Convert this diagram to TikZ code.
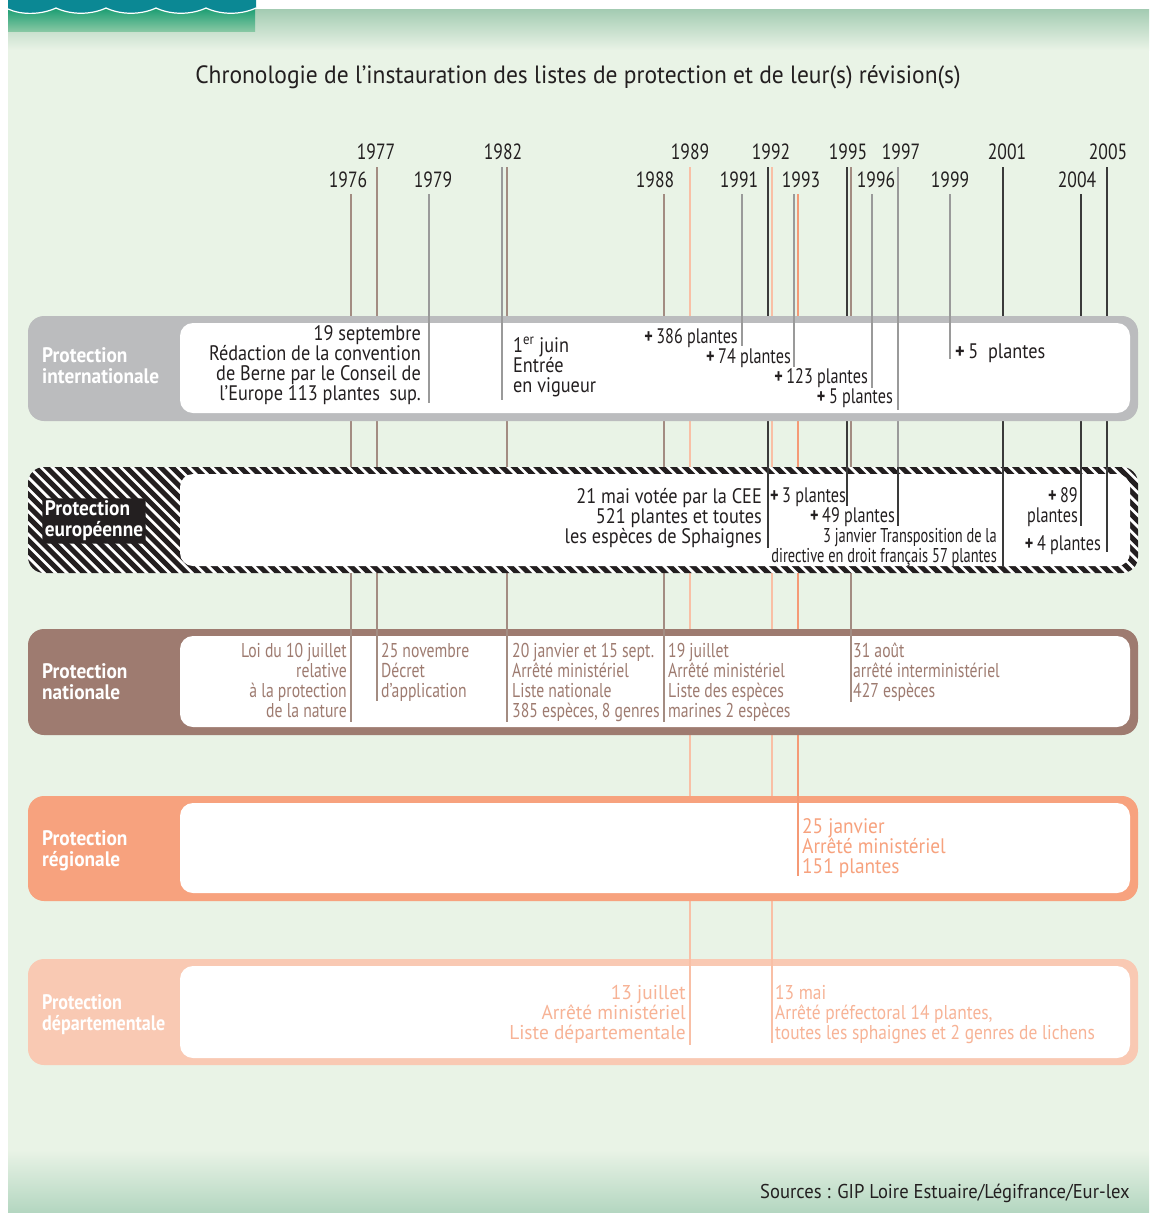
\documentclass[tikz,border=0pt]{standalone}
\usepackage{fontspec}
\setmainfont{PT Sans}
\newfontfamily\fyr[FakeStretch=0.80]{PT Sans}
\newfontfamily\fblk[FakeStretch=0.87]{PT Sans}
\newfontfamily\fplus[FakeStretch=0.77]{PT Sans}
\newfontfamily\fxc[FakeStretch=0.72]{PT Sans}
\newfontfamily\fcond[FakeStretch=0.785]{PT Sans}
\newfontfamily\freg[FakeStretch=0.92]{PT Sans}
\newfontfamily\fdepa[FakeStretch=0.97]{PT Sans}
\newfontfamily\fdepb[FakeStretch=0.87]{PT Sans}
\newfontfamily\flab[FakeStretch=0.92]{PT Sans}
\newfontfamily\fldep[FakeStretch=0.86]{PT Sans}
\newfontfamily\fttl[FakeStretch=0.94]{PT Sans}
\newfontfamily\fsrc[FakeStretch=0.93]{PT Sans}
\definecolor{bg}{HTML}{E9F3E6}
\definecolor{bgdark}{HTML}{A3CBB2}
\definecolor{bgbot}{HTML}{B3D6C0}
\definecolor{bannerteal}{HTML}{0B8894}
\definecolor{wgreen}{HTML}{1A9D72}
\definecolor{wgreenl}{HTML}{86C7A3}
\definecolor{intl}{HTML}{BBBCBE}
\definecolor{natl}{HTML}{9E7B70}
\definecolor{regl}{HTML}{F7A27E}
\definecolor{dept}{HTML}{F9C9B3}
\definecolor{deptt}{HTML}{F7B396}
\definecolor{txt}{HTML}{231F20}
\definecolor{lgray}{HTML}{9A9A9A}
\definecolor{ldark}{HTML}{3A3A3A}
\definecolor{lbrown}{HTML}{A38C82}
\definecolor{lsalm}{HTML}{F9BFA5}
\definecolor{salm}{HTML}{F59A76}
\tikzset{
  yr/.style={font=\fyr\fontsize{22}{22}\selectfont, text=txt, inner sep=0},
  lab/.style={font=\flab\bfseries\fontsize{21}{21}\selectfont, text=white, align=left, anchor=west, inner sep=0},
  blk/.style={font=\fblk\fontsize{21}{20}\selectfont, text=txt, inner sep=0},
  plus/.style={font=\fplus\fontsize{21}{20}\selectfont, text=txt, inner sep=0},
  xc/.style={font=\fxc\fontsize{20}{20}\selectfont, text=txt, inner sep=0},
  nat/.style={font=\fcond\fontsize{20}{20}\selectfont, text=natl, inner sep=0},
  reg/.style={font=\freg\fontsize{21}{20}\selectfont, text=regl, inner sep=0},
  depa/.style={font=\fdepa\fontsize{20}{20}\selectfont, text=deptt, inner sep=0},
  depb/.style={font=\fdepb\fontsize{20}{20}\selectfont, text=deptt, inner sep=0},
  gl/.style={draw=lgray, line width=1.1pt},
  dl/.style={draw=ldark, line width=1.1pt},
  bl/.style={draw=lbrown, line width=1.1pt},
  sl/.style={draw=salm, line width=1.1pt},
  ll/.style={draw=lsalm, line width=1.1pt},
}
\newcommand\pl{\textbf{+}\,}
\begin{document}
\begin{tikzpicture}[x=1pt,y=-1pt]
\useasboundingbox (0,0) rectangle (1149,1213);
\fill[white] (0,0) rectangle (1149,1213);
% background
\shade[top color=bgdark, bottom color=bg] (8,9) rectangle (1149,50);
\fill[bg] (8,50) rectangle (1149,1150);
\shade[top color=bg, bottom color=bgbot] (8,1150) rectangle (1149,1213);
% banner
\shade[top color=wgreen, bottom color=wgreenl] (8,8) rectangle (255,31);
\fill[bannerteal] (8,0) -- (256,0) -- (256,8)
  .. controls (241,15) and (221,15) .. (206,8)
  .. controls (191,15) and (171,15) .. (156,8)
  .. controls (141,15) and (121,15) .. (106,8)
  .. controls (91,15) and (71,15) .. (56,8)
  .. controls (41,15) and (21,15) .. (8,9) -- cycle;
\draw[white, line width=1.2pt] (256,8)
  .. controls (241,15) and (221,15) .. (206,8)
  .. controls (191,15) and (171,15) .. (156,8)
  .. controls (141,15) and (121,15) .. (106,8)
  .. controls (91,15) and (71,15) .. (56,8)
  .. controls (41,15) and (21,15) .. (8,9);
% title
\node[font=\fttl\fontsize{25}{25}\selectfont, text=txt, inner sep=0] (title) at (578,77) {Chronologie de l’instauration des listes de protection et de leur(s) révision(s)};
% years
\node[yr] (y1977) at (376,152) {1977};
\node[yr] (y1982) at (503,152) {1982};
\node[yr] (y1989) at (690,152) {1989};
\node[yr] (y1992) at (771,152) {1992};
\node[yr] (y1995) at (848,152) {1995};
\node[yr] (y1997) at (901,152) {1997};
\node[yr] (y2001) at (1007,152) {2001};
\node[yr] (y2005) at (1108,152) {2005};
\node[yr] (y1976) at (348,180) {1976};
\node[yr] (y1979) at (433,180) {1979};
\node[yr] (y1988) at (655,180) {1988};
\node[yr] (y1991) at (739,180) {1991};
\node[yr] (y1993) at (801,180) {1993};
\node[yr] (y1996) at (876,180) {1996};
\node[yr] (y1999) at (950,180) {1999};
\node[yr] (y2004) at (1077,180) {2004};
% year lines (behind the bands)
\foreach \n/\x/\ty/\ey/\s in {
  a/351/194/722/bl, b/377/167/701/bl, c/429/194/403/gl, d/502/167/400/gl,
  e/507/167/722/bl, f/664/194/722/bl, g/690/167/1045/ll, h/742/194/346/gl,
  i/768/167/548/dl, j/772/167/1043/ll, k/794/194/367/gl, l/798/194/876/sl,
  m/847/167/506/dl, n/851/167/702/bl, o/872/194/388/gl, p/898/167/526/gl,
  q/950/194/359/gl, r/1003/167/566/dl, s/1081/194/526/dl, t/1107/167/552/dl}{
  \coordinate (t\n) at (\x,\ty);
  \coordinate (e\n) at (\x,\ey);
  \draw[\s] (t\n) -- (e\n);
}
% international band
\fill[intl, rounded corners=16pt] (28,316) rectangle (1138,421);
\fill[white, rounded corners=13pt] (180,323) rectangle (1130,413);
% european band
\begin{scope}
  \clip[rounded corners=16pt] (28,467) rectangle (1138,573);
  \fill[white] (28,467) rectangle (1138,573);
  \foreach \i in {-12,...,100}
    \draw[txt, line width=5pt] ({28+\i*11.4},460) -- ({28+\i*11.4+120},580);
\end{scope}
\fill[white, rounded corners=13pt] (180,474) rectangle (1130,566);
% national band
\fill[natl, rounded corners=16pt] (28,629) rectangle (1138,735);
\fill[white, rounded corners=13pt] (180,636) rectangle (1130,727);
% regional band
\fill[regl, rounded corners=16pt] (28,796) rectangle (1138,901);
\fill[white, rounded corners=13pt] (180,803) rectangle (1130,893);
% departmental band
\fill[dept, rounded corners=16pt] (28,959) rectangle (1138,1065);
\fill[white, rounded corners=13pt] (180,966) rectangle (1130,1058);
% front segments in the band where each line ends
\foreach \n/\fy/\s in {a/629/bl, b/629/bl, c/316/gl, d/316/gl, e/629/bl, f/629/bl,
  g/959/ll, h/316/gl, i/467/dl, j/959/ll, k/316/gl, l/796/sl, m/467/dl, n/629/bl,
  o/316/gl, q/316/gl, r/467/dl, s/467/dl, t/467/dl}{
  \draw[\s] (t\n |- 0,\fy) -- (e\n);
}
\coordinate (pint) at (898,410);
\draw[gl] (tp |- 0,316) -- (pint);
\draw[dl] (tp |- 0,467) -- (ep);
% band labels
\node[lab] (lint) at (42,366) {Protection\\internationale};
\node[font=\flab\bfseries\fontsize{21}{21}\selectfont, text=white, align=left, fill=txt, inner sep=2.5pt, rounded corners=2pt] (leu) at (94,521) {Protection\\européenne};
\node[lab] (lnat) at (42,682) {Protection\\nationale};
\node[lab] (lreg) at (42,851) {Protection\\régionale};
\node[lab, font=\fldep\bfseries\fontsize{21}{21}\selectfont] (ldep) at (42,1015) {Protection\\départementale};
% international texts
\node[blk, align=right, anchor=north east] (i1979) at (421,325) {19 septembre\\Rédaction de la convention\\de Berne par le Conseil de\\l’Europe 113 plantes\ \ sup.};
\node[blk, align=left, anchor=north west] (i1982) at (513,337) {1\textsuperscript{er} juin\\Entrée\\en vigueur};
\node[plus, anchor=north east] (i1991) at (738,328) {\pl 386 plantes};
\node[plus, anchor=north east] (i1993) at (791,348) {\pl 74 plantes};
\node[plus, anchor=north east] (i1996) at (868,368) {\pl 123 plantes};
\node[plus, anchor=north east] (i1997) at (893,389) {\pl 5 plantes};
\node[blk, anchor=north west] (i1999) at (955,344) {\pl 5\ \ plantes};
% european texts
\node[blk, align=right, anchor=north east] (e1992) at (762,488) {21 mai votée par la CEE\\521 plantes et toutes\\les espèces de Sphaignes};
\node[plus, anchor=north west] (e1995) at (770,488) {\pl 3 plantes};
\node[plus, anchor=north east] (e1997) at (895,507) {\pl 49 plantes};
\node[xc, align=right, anchor=north east] (e2001) at (997,528) {3 janvier Transposition de la\\directive en droit français 57 plantes};
\node[plus, align=right, anchor=north east] (e2004) at (1078,487) {\pl 89\\plantes};
\node[plus, anchor=north east] (e2005) at (1101,535) {\pl 4 plantes};
% national texts
\node[nat, align=right, anchor=north east] (n1976) at (347,643) {Loi du 10 juillet\\relative\\à la protection\\de la nature};
\node[nat, align=left, anchor=north west] (n1977) at (381,643) {25 novembre\\Décret\\d’application};
\node[nat, align=left, anchor=north west] (n1982) at (512,643) {20 janvier et 15 sept.\\Arrêté ministériel\\Liste nationale\\385 espèces, 8 genres};
\node[nat, align=left, anchor=north west] (n1988) at (668,643) {19 juillet\\Arrêté ministériel\\Liste des espèces\\marines 2 espèces};
\node[nat, align=left, anchor=north west] (n1995) at (853,643) {31 août\\arrêté interministériel\\427 espèces};
% regional text
\node[reg, align=left, anchor=north west] (r1993) at (802,818) {25 janvier\\Arrêté ministériel\\151 plantes};
% departmental texts
\node[depa, align=right, anchor=north east] (d1989) at (686,985) {13 juillet\\Arrêté ministériel\\Liste départementale};
\node[depb, align=left, anchor=north west] (d1992) at (775,985) {13 mai\\Arrêté préfectoral 14 plantes,\\toutes les sphaignes et 2 genres de lichens};
% sources
\node[font=\fsrc\fontsize{20}{20}\selectfont, text=txt, anchor=east, inner sep=0] (src) at (1130,1193) {Sources : GIP Loire Estuaire/Légifrance/Eur-lex};
\end{tikzpicture}
\end{document}
